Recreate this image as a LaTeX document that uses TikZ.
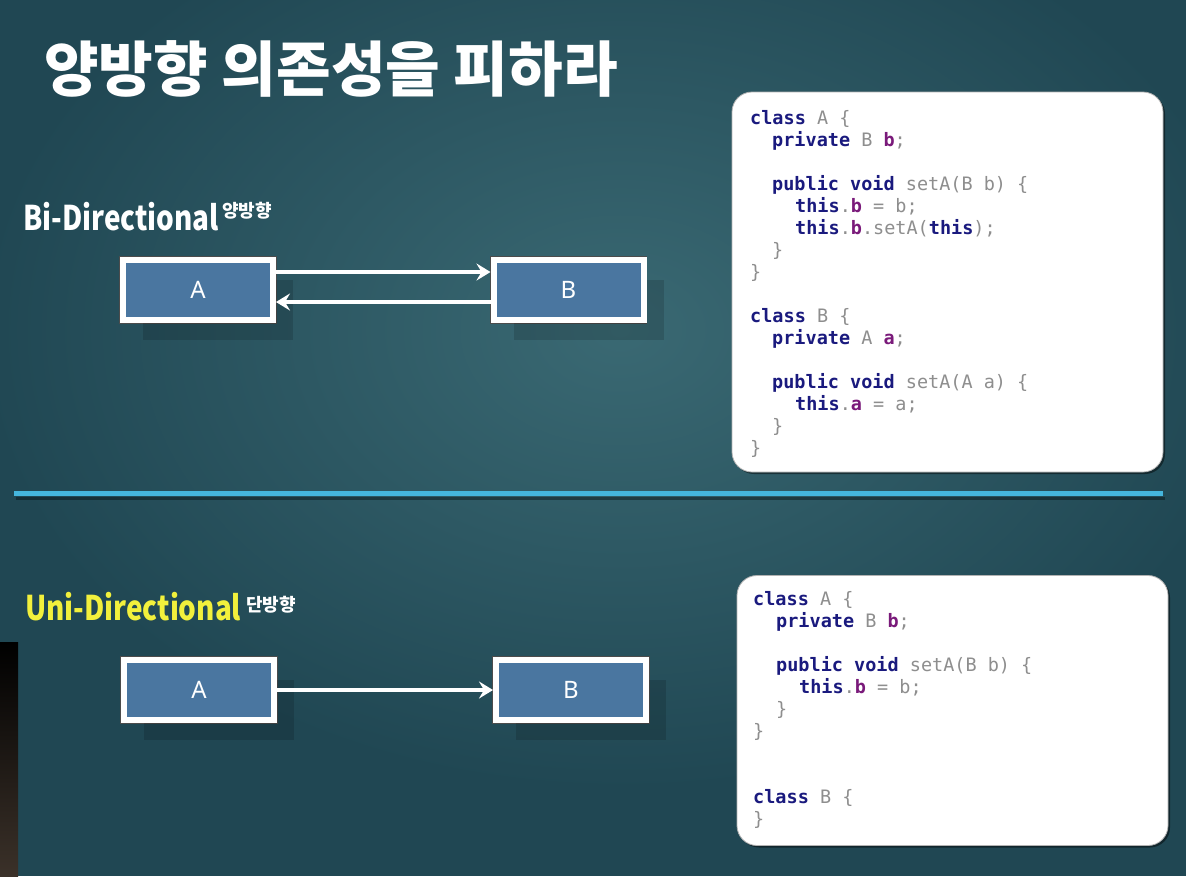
\documentclass[tikz,border=0pt]{standalone}
\usepackage{fontspec}
\usetikzlibrary{arrows.meta,shadows}
\newfontfamily\kr{Noto Sans CJK KR}
\newfontfamily\codefont{DejaVu Sans Mono}
\newfontfamily\lblfont{Noto Sans}
\definecolor{bg}{HTML}{204753}
\definecolor{bglight}{HTML}{3A6973}
\definecolor{boxblue}{HTML}{4A76A0}
\definecolor{sepc}{HTML}{45B6DD}
\definecolor{kwc}{HTML}{1A1A7E}
\definecolor{fdc}{HTML}{7A1A7A}
\definecolor{plain}{HTML}{8E8E8E}
\definecolor{yel}{HTML}{F2F03C}
\definecolor{barbot}{HTML}{3B3129}
\newcommand\kw[1]{{\color{kwc}\bfseries #1}}
\newcommand\fd[1]{{\color{fdc}\bfseries #1}}
\begin{document}
\begin{tikzpicture}[x=1pt,y=-1pt,
  cls/.style={draw=white, line width=6pt, fill=boxblue, minimum width=150pt, minimum height=60pt,
    inner sep=0pt, text=white, font=\lblfont\fontsize{24}{24}\selectfont,
    preaction={draw=black!70, line width=7.6pt},
    drop shadow={shadow xshift=20pt, shadow yshift=-20pt, opacity=0.14, fill=black}},
  conn/.style={draw=white, line width=4.5pt, -{Stealth[length=14pt,width=17pt,inset=5pt]}},
  codebox/.style={fill=white, rounded corners=20pt, draw=black!30, line width=0.8pt, inner sep=0pt,
    drop shadow={shadow xshift=2pt, shadow yshift=-2pt, opacity=0.45, fill=black}},
  cl/.style={anchor=base west, inner sep=0pt, text=plain, font=\codefont\fontsize{18.5}{22}\selectfont},
  head/.style={anchor=base west, inner sep=0pt, font=\kr\bfseries\fontsize{34}{34}\selectfont},
  sup/.style={anchor=base west, inner sep=0pt, text=white, font=\kr\bfseries\fontsize{18}{18}\selectfont}]
% background
\useasboundingbox (0,0) rectangle (1186,876);
\fill[bg] (0,0) rectangle (1186,876);
\shade[inner color=bglight, outer color=bg] (620,330) ellipse (640pt and 460pt);
\shade[top color=black, bottom color=barbot] (0,642) rectangle (18,876);
% title
\node[anchor=base west, inner sep=0pt, text=white, font=\kr\bfseries\fontsize{60}{60}\selectfont] (title) at (44,91) {\scalebox{0.99}[1]{양방향 의존성을 피하라}};
% separator
\draw[black, opacity=0.35, line width=3pt] (16,498) -- (1165,498);
\draw[sepc, line width=5pt] (14,493.5) -- (1163,493.5);
% headings
\node[head, text=white] (bid) at (23,230) {\scalebox{0.82}[1]{Bi-Directional}};
\node[sup] (bisup) at (222,217) {양방향};
\node[head, text=yel] (unid) at (25,620) {\scalebox{0.82}[1]{Uni-Directional}};
\node[sup] (unisup) at (246,611) {단방향};
% top diagram
\node[cls] (A1) at (198,290) {A};
\node[cls] (B1) at (568.5,290) {B};
\draw[conn] ([yshift=18pt]A1.east) -- ([yshift=18pt]B1.west);
\draw[conn] ([yshift=-12pt]B1.west) -- ([yshift=-12pt]A1.east);
% bottom diagram
\node[cls] (A2) at (199,690) {A};
\node[cls] (B2) at (571,690) {B};
\draw[conn] (A2.east) -- (B2.west);
% code box 1
\node[codebox, minimum width=431pt, minimum height=380pt] (code1) at (947.5,282) {};
\node[cl] (c1l1) at (750,124) {\kw{class} A \{};
\node[cl] (c1l2) at (772,146) {\kw{private} B \fd{b};};
\node[cl] (c1l3) at (772,190) {\kw{public} \kw{void} setA(B b) \{};
\node[cl] (c1l4) at (795,212) {\kw{this}.\fd{b} = b;};
\node[cl] (c1l5) at (795,234) {\kw{this}.\fd{b}.setA(\kw{this});};
\node[cl] (c1l6) at (772,256) {\}};
\node[cl] (c1l7) at (750,278) {\}};
\node[cl] (c1l8) at (750,322) {\kw{class} B \{};
\node[cl] (c1l9) at (772,344) {\kw{private} A \fd{a};};
\node[cl] (c1l10) at (772,388) {\kw{public} \kw{void} setA(A a) \{};
\node[cl] (c1l11) at (795,410) {\kw{this}.\fd{a} = a;};
\node[cl] (c1l12) at (772,432) {\}};
\node[cl] (c1l13) at (750,454) {\}};
% code box 2
\node[codebox, minimum width=431pt, minimum height=270pt] (code2) at (952.5,710.5) {};
\node[cl] (c2l1) at (753,605) {\kw{class} A \{};
\node[cl] (c2l2) at (776,627) {\kw{private} B \fd{b};};
\node[cl] (c2l3) at (776,671) {\kw{public} \kw{void} setA(B b) \{};
\node[cl] (c2l4) at (799,693) {\kw{this}.\fd{b} = b;};
\node[cl] (c2l5) at (776,715) {\}};
\node[cl] (c2l6) at (753,737) {\}};
\node[cl] (c2l7) at (753,803) {\kw{class} B \{};
\node[cl] (c2l8) at (753,825) {\}};
\end{tikzpicture}
\end{document}
